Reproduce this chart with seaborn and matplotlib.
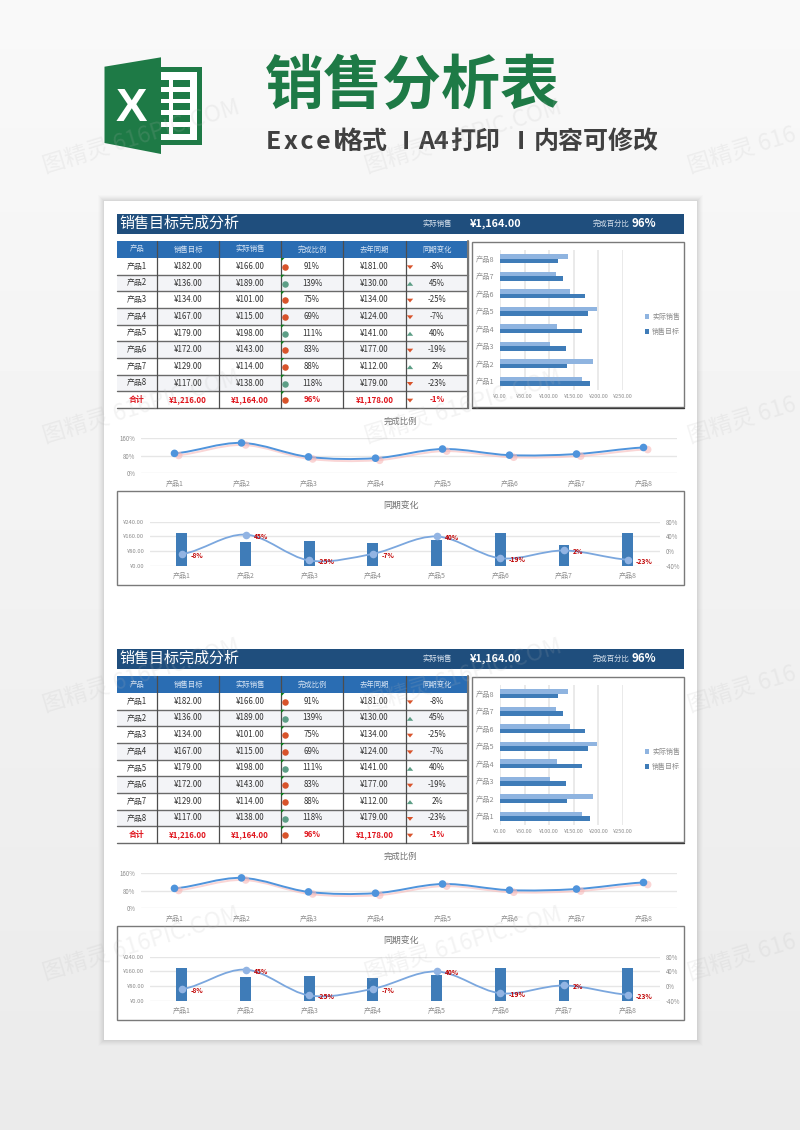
import numpy as np
import pandas as pd
import matplotlib
matplotlib.use('Agg')
import matplotlib.pyplot as plt
import matplotlib.patheffects as pe
from matplotlib.patches import Rectangle, Polygon, PathPatch
from matplotlib.path import Path
import seaborn as sns

sns.set_theme(style='white')
plt.rcParams['font.family'] = ['Noto Sans CJK SC', 'DejaVu Sans']
plt.rcParams['axes.unicode_minus'] = False

# dados da tabela
produtos = ['产品1', '产品2', '产品3', '产品4', '产品5', '产品6', '产品7', '产品8']
meta = [182, 136, 134, 167, 179, 172, 129, 117]
real = [166, 189, 101, 115, 198, 143, 114, 138]
ano_passado = [181, 130, 134, 124, 141, 177, 112, 179]
razao = [91, 139, 75, 69, 111, 83, 88, 118]
variacao = [-8, 45, -25, -7, 40, -19, 2, -23]
total_label = '合计'
total_meta = 1216
total_real = 1164
total_ano = 1178
total_razao = 96
total_variacao = -1
cabecalho = ['产品', '销售目标', '实际销售', '完成比例', '去年同期', '同期变化']
ticks_barra = [0, 50, 100, 150, 200, 250]
ticks_razao = [0, 80, 160]
ticks_valor = [0, 80, 160, 240]
ticks_pct = [-40, 0, 40, 80]

W, H = 800, 1130
AZUL_ESCURO = '#1f4e7d'
AZUL_HEAD = '#2a6db3'
BAR_ESCURO = '#3f7cb8'
BAR_CLARO = '#8fb4e0'
LINHA = '#4f94dc'
CINZA = '#8c8c8c'
VERDE = '#1e7a46'
LARANJA = '#d8532b'
VERDE_ICON = '#5d9e86'

fig = plt.figure(figsize=(8, 11.3), dpi=100)


def eixo_px(x0, y0, x1, y1, **kw):
    return fig.add_axes([x0 / W, 1 - y1 / H, (x1 - x0) / W, (y1 - y0) / H], **kw)


def curva(ax, valores, cor, lw, sombra=False):
    # linha suave estilo excel, bezier direto em coordenadas de dados
    n = len(valores)
    verts = [(0, valores[0])]
    codes = [Path.MOVETO]
    for i in range(n - 1):
        a = valores[max(i - 1, 0)]
        b = valores[i]
        c = valores[i + 1]
        d = valores[min(i + 2, n - 1)]
        verts += [(i + 1 / 3, b + (c - a) / 6), (i + 2 / 3, c - (d - b) / 6), (i + 1, c)]
        codes += [Path.CURVE4] * 3
    patch = PathPatch(Path(verts, codes), fill=False, edgecolor=cor, lw=lw, capstyle='round', zorder=3)
    if sombra:
        patch.set_path_effects([pe.SimpleLineShadow(offset=(1, -1.5), shadow_color='#f7b9b9', alpha=0.6), pe.Normal()])
    ax.add_patch(patch)


def limpa(ax):
    ax.patch.set_alpha(0)
    sns.despine(ax=ax, left=True, bottom=True, right=True, top=True)
    ax.set_xlabel('')
    ax.set_ylabel('')


def tabela(bg, dy):
    xs = [117, 157, 219, 281, 343, 406, 468]
    ys = np.linspace(258, 408, 10) + dy
    bg.add_patch(Rectangle((117, 241 + dy), 351, 17, fc=AZUL_HEAD, ec='none', zorder=2))
    for j, nome in enumerate(cabecalho):
        bg.text((xs[j] + xs[j + 1]) / 2, 249.5 + dy, nome, color='#d5e3f3', fontsize=5.3, ha='center', va='center', zorder=5)
    linhas = []
    for i in range(8):
        linhas.append([produtos[i], f'¥{meta[i]:.2f}', f'¥{real[i]:.2f}', f'{razao[i]}%', f'¥{ano_passado[i]:.2f}', f'{variacao[i]}%'])
    linhas.append([total_label, f'¥{total_meta:,.2f}', f'¥{total_real:,.2f}', f'{total_razao}%', f'¥{total_ano:,.2f}', f'{total_variacao}%'])
    r_vals = razao + [total_razao]
    v_vals = variacao + [total_variacao]
    for i, lin in enumerate(linhas):
        if i % 2 == 1 and i < 8:
            bg.add_patch(Rectangle((117, ys[i]), 351, ys[i + 1] - ys[i], fc='#f3f4f7', ec='none', zorder=1.5))
        cor = '#e0141c' if i == 8 else '#333333'
        peso = 'bold' if i == 8 else 'medium'
        yc = (ys[i] + ys[i + 1]) / 2
        for j, txt in enumerate(lin):
            bg.text((xs[j] + xs[j + 1]) / 2, yc, txt, color=cor, fontsize=5.7, fontweight=peso, ha='center', va='center', zorder=5)
        # icones de status
        bg.scatter(285.3, yc + 0.5, s=22, color=VERDE_ICON if r_vals[i] >= 100 else LARANJA, linewidths=0, zorder=6)
        bg.add_patch(Polygon([(281, ys[i]), (284.5, ys[i]), (281, ys[i] + 3.5)], fc='#0d7a1c', ec='none', zorder=6))
        if v_vals[i] >= 0:
            bg.add_patch(Polygon([(406.8, yc + 2.8), (413.2, yc + 2.8), (410, yc - 1.2)], fc=VERDE_ICON, ec='none', zorder=6))
        else:
            bg.add_patch(Polygon([(406.8, yc - 1), (413.2, yc - 1), (410, yc + 2.8)], fc=LARANJA, ec='none', zorder=6))
        bg.plot([117, 468], [ys[i + 1], ys[i + 1]], color='#6a6a6a', lw=1.0, zorder=4)
    for x in xs[1:]:
        bg.plot([x, x], [241 + dy, 408 + dy], color='#4d4d4d', lw=0.9, zorder=4)
    bg.plot([468, 468], [241 + dy, 408 + dy], color='#777777', lw=1.5, zorder=4)


def folha(bg, dy):
    # barra de titulo
    bg.add_patch(Rectangle((117, 214 + dy), 567, 20, fc=AZUL_ESCURO, ec='none', zorder=2))
    bg.text(119, 224 + dy, '销售目标完成分析', color='white', fontsize=10.8, ha='left', va='center', zorder=5)
    bg.text(437, 224 + dy, '实际销售', color='#d8e2ee', fontsize=5.3, ha='center', va='center', zorder=5)
    bg.text(470, 223.5 + dy, f'¥{total_real:,.2f}', color='white', fontsize=7.8, fontweight='bold', ha='left', va='center', zorder=5)
    bg.text(611, 224 + dy, '完成百分比', color='#d8e2ee', fontsize=5.3, ha='center', va='center', zorder=5)
    bg.text(632, 223.5 + dy, f'{total_razao}%', color='white', fontsize=8.2, fontweight='bold', ha='left', va='center', zorder=5)
    tabela(bg, dy)

    # grafico de barras
    bg.add_patch(Rectangle((472, 242 + dy), 212, 165, fc='white', ec='#7a7a7a', lw=1.0, zorder=2))
    bg.plot([472, 684], [407.5 + dy, 407.5 + dy], color='#3a3a3a', lw=1.0, zorder=3)
    ax = eixo_px(500, 250 + dy, 623, 390 + dy)
    df = pd.DataFrame({
        '产品': produtos * 2,
        '金额': real + meta,
        '系列': ['实际销售'] * 8 + ['销售目标'] * 8,
    })
    sns.barplot(data=df, y='产品', x='金额', hue='系列', order=produtos[::-1], hue_order=['实际销售', '销售目标'],
                palette=[BAR_CLARO, BAR_ESCURO], width=0.52, saturation=1, linewidth=0, ax=ax, zorder=3)
    ax.set_xlim(0, 250)
    ax.set_xticks(ticks_barra)
    ax.set_xticklabels([f'¥{t:.2f}' for t in ticks_barra])
    ax.grid(axis='x', color='#e4e4e4', lw=1.1)
    ax.set_axisbelow(True)
    ax.tick_params(axis='x', length=0, labelsize=4.0, labelcolor=CINZA, pad=3)
    ax.tick_params(axis='y', length=0, labelsize=5.2, labelcolor=CINZA, pad=4)
    limpa(ax)
    ax.legend(loc='center left', bbox_to_anchor=(1.175, 0.468), frameon=False, fontsize=5.0, labelcolor=CINZA,
              handlelength=0.7, handleheight=0.7, handletextpad=0.4, labelspacing=0.95, borderpad=0, borderaxespad=0)

    # linha completa / razao
    bg.text(400, 421 + dy, '完成比例', color='#707070', fontsize=6.0, ha='center', va='center', zorder=5)
    ax2 = eixo_px(141, 438.3 + dy, 677, 473.3 + dy)
    curva(ax2, razao, LINHA, 1.4, sombra=True)
    pts = sns.scatterplot(x=produtos, y=razao, color=LINHA, s=30, linewidth=0, ax=ax2, zorder=4, clip_on=False)
    pts.collections[0].set_path_effects([pe.SimplePatchShadow(offset=(3, -1.5), shadow_rgbFace='#f7b9b9', alpha=0.6), pe.Normal()])
    ax2.set_xlim(-0.5, 7.5)
    ax2.set_ylim(0, 160)
    ax2.set_yticks(ticks_razao)
    ax2.set_yticklabels([f'{t}%' for t in ticks_razao])
    ax2.grid(axis='y', color='#e6e6e6', lw=1)
    ax2.set_axisbelow(True)
    ax2.tick_params(length=0, labelsize=4.4, labelcolor=CINZA)
    ax2.tick_params(axis='x', pad=4.5, labelsize=5.0)
    ax2.tick_params(axis='y', pad=4)
    limpa(ax2)

    # combinado barras + variacao
    bg.add_patch(Rectangle((117, 491.3 + dy), 567, 93.4, fc='white', ec='#7a7a7a', lw=1.0, zorder=2))
    bg.text(401.5, 505 + dy, '同期变化', color='#707070', fontsize=6.4, ha='center', va='center', zorder=5)
    ax3 = eixo_px(150, 521.7 + dy, 659.5, 566 + dy)
    sns.barplot(x=produtos, y=ano_passado, color=BAR_ESCURO, saturation=1, width=0.17, linewidth=0, ax=ax3, zorder=3)
    ax3.set_xlim(-0.5, 7.5)
    ax3.set_ylim(0, 240)
    ax3.set_yticks(ticks_valor)
    ax3.set_yticklabels([f'¥{t:.2f}' for t in ticks_valor])
    ax3.grid(axis='y', color='#e6e6e6', lw=1)
    ax3.set_axisbelow(True)
    ax3.tick_params(length=0, labelsize=4.2, labelcolor=CINZA)
    ax3.tick_params(axis='x', pad=4.5, labelsize=5.0)
    ax3.tick_params(axis='y', pad=4)
    limpa(ax3)

    ax4 = ax3.twinx()
    curva(ax4, variacao, '#7ba7de', 1.3)
    sns.scatterplot(x=list(range(8)), y=variacao, color='#92b4e3', s=30, linewidth=0, ax=ax4, zorder=4, clip_on=False)
    for i, v in enumerate(variacao):
        ax4.annotate(f'{v}%', (i, v), xytext=(6, -1), textcoords='offset points', color='#c00000',
                     fontsize=4.8, fontweight='bold', va='center', ha='left', zorder=6)
    ax4.set_ylim(-40, 80)
    ax4.set_yticks(ticks_pct)
    ax4.set_yticklabels([f'{t}%' for t in ticks_pct])
    ax4.tick_params(length=0, labelsize=4.4, labelcolor=CINZA, pad=4.5)
    ax4.grid(False)
    limpa(ax4)


# fundo em pixels
bg = fig.add_axes([0, 0, 1, 1], zorder=0)
bg.set_xlim(0, W)
bg.set_ylim(H, 0)
bg.axis('off')
bg.imshow(np.linspace(0.975, 0.92, 256).reshape(-1, 1), cmap='gray', vmin=0, vmax=1, extent=[0, W, H, 0], aspect='auto', zorder=0)
for k, a in zip(range(6, 0, -1), [0.02, 0.03, 0.04, 0.05, 0.06, 0.07]):
    bg.add_patch(Rectangle((104 - k, 201 - k), 593 + 2 * k, 839 + 2 * k, fc='#888888', alpha=a, ec='none', zorder=0.5))
bg.add_patch(Rectangle((104, 201), 593, 839, fc='white', ec='none', zorder=1))

# icone excel
bg.add_patch(Rectangle((161, 67.3), 40.7, 78, fc=VERDE, ec='none', zorder=2))
bg.add_patch(Rectangle((161, 72.3), 35.5, 67.7, fc='white', ec='none', zorder=2))
for y0 in [80, 91.5, 103, 115, 126.5]:
    bg.add_patch(Rectangle((161, y0), 7.5, 7, fc=VERDE, ec='none', zorder=3))
    bg.add_patch(Rectangle((173, y0), 17, 7, fc=VERDE, ec='none', zorder=3))
bg.add_patch(Polygon([(104.5, 66.7), (161, 57.3), (161, 154), (104.5, 143)], fc=VERDE, ec='none', zorder=3))
bg.text(131.5, 109, 'X', color='white', fontsize=34, fontweight='bold', family=['Liberation Sans'],
        ha='center', va='center', zorder=4)

bg.text(265, 87, '销售分析表', color=VERDE, fontsize=42.5, fontweight='bold', ha='left', va='center', zorder=4)
# subtitulo em partes, o original tem espacamento maior
for txt, x in [('E\u200ax\u200ac\u200ae\u200al', 266), ('格式', 337), ('I', 402), ('A4', 418), ('打印', 450), ('I', 517), ('内容可修改', 534)]:
    bg.text(x, 142, txt, color='#404040', fontsize=18, fontweight='bold', ha='left', va='center', zorder=4)

folha(bg, 0)
folha(bg, 435)

# marca d'agua por cima de tudo
top = fig.add_axes([0, 0, 1, 1], zorder=20)
top.set_xlim(0, W)
top.set_ylim(H, 0)
top.axis('off')
top.patch.set_alpha(0)
for x, marca in [(45, '图精灵 616PIC.COM'), (367, '图精灵 616PIC.COM'), (690, '图精灵 616')]:
    for y in [173, 443, 712, 980]:
        top.text(x, y, marca, color='#b8b8b8', alpha=0.16, fontsize=16.5, rotation=17,
                 rotation_mode='anchor', ha='left', va='baseline', zorder=20)

plt.savefig('out.png', dpi=100)
